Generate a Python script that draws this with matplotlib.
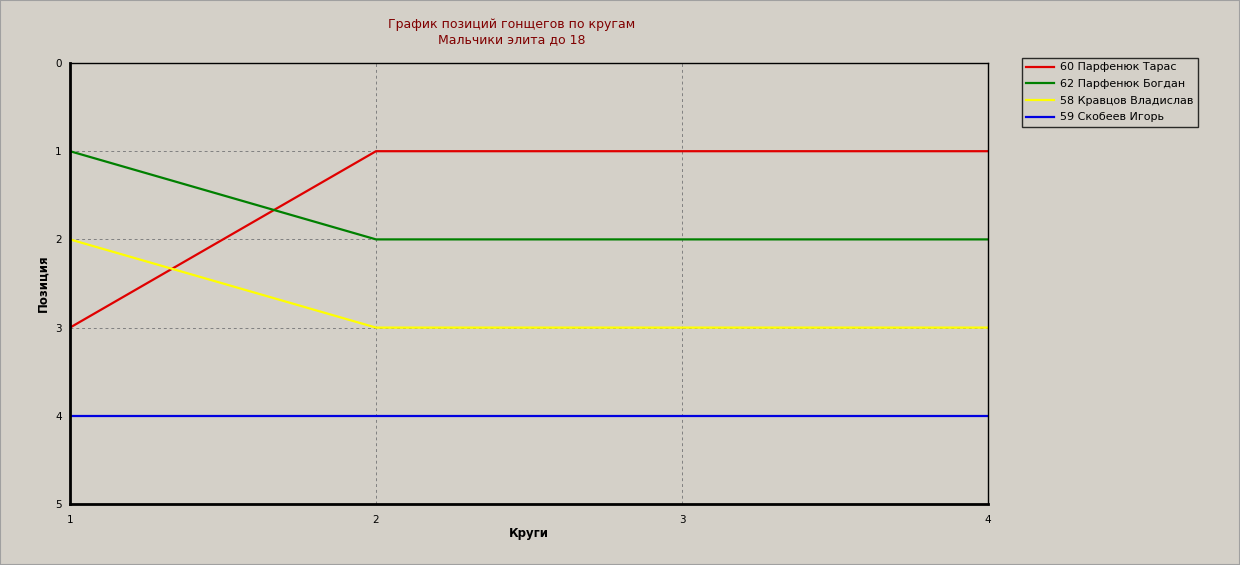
import matplotlib
matplotlib.use("Agg")
import matplotlib.pyplot as plt
from matplotlib.patches import Rectangle

laps = [1, 2, 3, 4]
names = ["60 Парфенюк Тарас", "62 Парфенюк Богдан", "58 Кравцов Владислав", "59 Скобеев Игорь"]
positions = [
    [3, 1, 1, 1],
    [1, 2, 2, 2],
    [2, 3, 3, 3],
    [4, 4, 4, 4],
]
colors = ["#e00000", "#008000", "#ffff00", "#0000e0"]
yticks = [0, 1, 2, 3, 4, 5]
xticks = [1, 2, 3, 4]

bg = "#d4d0c8"
fig = plt.figure(figsize=(12.4, 5.65), dpi=100, facecolor=bg)
ax = fig.add_axes([70/1240, 1-504/565, (988-70)/1240, (504-63)/565])
ax.set_facecolor(bg)

for n, p, c in zip(names, positions, colors):
    ax.plot(laps, p, color=c, lw=1.6, label=n)

ax.set_xlim(1, 4)
ax.set_ylim(5, 0)
ax.set_xticks(xticks)
ax.set_yticks(yticks)
ax.tick_params(axis="y", length=0, labelsize=7.5, pad=6)
ax.tick_params(axis="x", length=0, labelsize=7.5, pad=8)
ax.grid(True, color="#808080", ls=(0, (3, 3)), lw=0.7)
for s in ["left", "bottom"]:
    ax.spines[s].set_linewidth(2)
for s in ["top", "right"]:
    ax.spines[s].set_linewidth(1)

ax.set_xlabel("Круги", fontsize=8.5, fontweight="bold", labelpad=1)
ax.set_ylabel("Позиция", fontsize=8.5, fontweight="bold", labelpad=4)

fig.text(512/1240, 1-32/565, "График позиций гонщегов по кругам\nМальчики элита до 18",
         ha="center", va="center", color="#800000", fontsize=9, linespacing=1.15)

leg = fig.legend(loc="upper left", bbox_to_anchor=(1022/1240, 1-58/565), fontsize=8,
                 frameon=True, fancybox=False, edgecolor="black", facecolor=bg,
                 handlelength=2.5, handletextpad=0.5, borderpad=0.4, labelspacing=0.6,
                 borderaxespad=0)
leg.get_frame().set_linewidth(1)

fig.patches.append(Rectangle((0, 0), 1, 1, transform=fig.transFigure, fill=False,
                             edgecolor="#a0a0a0", lw=1.5))
fig.savefig("out.png", dpi=100, facecolor=bg)
